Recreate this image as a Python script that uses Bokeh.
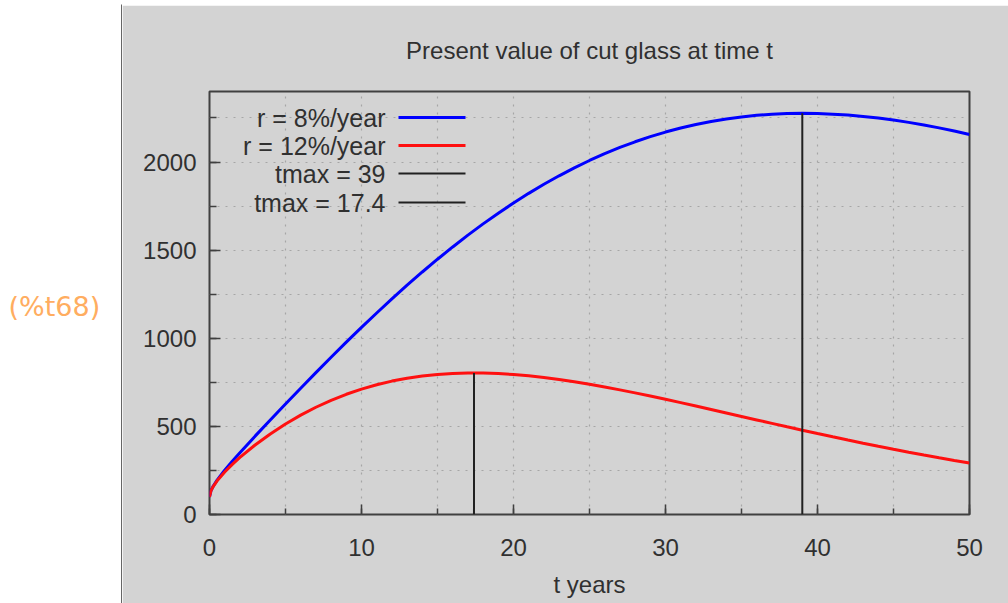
from bokeh.plotting import figure
from bokeh.layouts import row, column
from bokeh.models import Range1d, SingleIntervalTicker, Label, Arrow
from bokeh.embed import file_html
from bokeh.resources import INLINE

# ---- data -------------------------------------------------------------
t_years = [0, 0.1, 0.25, 0.5, 1, 1.5, 2,
           3, 4, 5, 6, 7, 8, 9, 10, 11, 12, 13, 14, 15, 16, 17, 18, 19, 20,
           21, 22, 23, 24, 25, 26, 27, 28, 29, 30, 31, 32, 33, 34, 35, 36,
           37, 38, 39, 40, 41, 42, 43, 44, 45, 46, 47, 48, 49, 50]

# present value at r = 8 %/year
pv_r8 = [100, 136.1, 161.6, 194.9, 250.9, 301.8, 350.5,
         444.6, 536.6, 627.3, 716.7, 805.1, 892.1, 977.7, 1061.6, 1143.4,
         1223.3, 1300.9, 1376.0, 1448.4, 1518.0, 1584.9, 1648.8, 1709.7,
         1767.4, 1822.1, 1873.5, 1921.7, 1966.8, 2008.6, 2047.1, 2082.6,
         2114.7, 2143.9, 2169.8, 2192.9, 2212.9, 2230.0, 2244.3, 2255.8,
         2264.6, 2270.9, 2274.6, 2276.0, 2275.0, 2271.6, 2266.2, 2258.7,
         2249.3, 2238.0, 2224.9, 2210.2, 2193.7, 2175.8, 2156.5]

# present value at r = 12 %/year
pv_r12 = [100, 135.6, 160.0, 191.0, 241.1, 284.3, 323.6,
          394.4, 457.2, 513.6, 563.8, 608.5, 647.8, 682.1, 711.5, 736.4,
          756.9, 773.3, 785.9, 794.8, 800.4, 802.9, 802.5, 799.6, 794.2,
          786.6, 777.1, 765.8, 753.0, 738.9, 723.6, 707.2, 690.0, 672.1,
          653.5, 634.6, 615.3, 595.7, 576.0, 556.3, 536.6, 517.0, 497.5,
          478.3, 459.3, 440.7, 422.4, 404.5, 387.0, 370.0, 353.4, 337.3,
          321.6, 306.5, 291.9]

# time of maximum present value and the value reached there
tmax = [39, 17.4]
pv_at_tmax = [2276.0, 803.1]

rate_labels = ["r = 8%/year", "r = 12%/year"]
tmax_labels = [f"tmax = {v:g}" for v in tmax]

title_text = "Present value of cut glass at time t"
x_label = "t years"
cell_label = "(%t68)"

# ---- style ------------------------------------------------------------
FONT = "Liberation Sans"
PANEL_BG = "#d3d3d3"
INK = "#303030"
FRAME = "#404040"
GRID = "#a6a6a6"
BLUE = "#0000ff"
RED = "#ff1010"
MARK = "#202020"
ORANGE = "#ffad60"

# ---- left margin with the output cell label -----------------------------
side = figure(width=122, height=603, x_range=Range1d(0, 122),
              y_range=Range1d(603, 0), x_axis_type=None, y_axis_type=None,
              toolbar_location=None, output_backend="svg", min_border=0,
              outline_line_color=None, background_fill_color="white",
              border_fill_color="white")
side.add_layout(Label(x=8, y=306, text=cell_label, text_font="DejaVu Sans",
                      text_font_size="27px", text_color=ORANGE,
                      text_baseline="middle", text_align="left"))
side.segment(x0=[121.5], y0=[4], x1=[121.5], y1=[603],
             line_color="black", line_width=1.2)

# ---- thin strip holding the top edge of the plot panel -------------------
strip = figure(width=886, height=5, x_range=Range1d(0, 886),
               y_range=Range1d(5, 0), x_axis_type=None, y_axis_type=None,
               toolbar_location=None, output_backend="svg", min_border=0,
               outline_line_color=None, background_fill_color="white",
               border_fill_color="white")
strip.segment(x0=[0], y0=[4.5], x1=[886], y1=[4.5],
              line_color="black", line_width=1.2)

# ---- main plot --------------------------------------------------------
p = figure(width=886, height=598, x_range=Range1d(0, 50),
           y_range=Range1d(0, 2400), toolbar_location=None,
           output_backend="svg", min_border_left=87, min_border_right=39,
           min_border_top=86, min_border_bottom=89,
           background_fill_color=PANEL_BG, border_fill_color=PANEL_BG,
           outline_line_color=FRAME, outline_line_width=2)

p.title.text = title_text
p.title.align = "center"
p.title.text_font = FONT
p.title.text_font_size = "24px"
p.title.text_font_style = "normal"
p.title.text_color = INK
p.title.standoff = 56

p.xaxis.ticker = SingleIntervalTicker(interval=10, num_minor_ticks=2)
p.yaxis.ticker = SingleIntervalTicker(interval=500, num_minor_ticks=2)
p.xgrid.ticker = SingleIntervalTicker(interval=5)
p.ygrid.ticker = SingleIntervalTicker(interval=250)

for ax in (p.xaxis[0], p.yaxis[0]):
    ax.axis_line_color = None
    ax.major_tick_line_color = FRAME
    ax.minor_tick_line_color = FRAME
    ax.major_tick_line_width = 1.5
    ax.minor_tick_line_width = 1.5
    ax.major_tick_out = 0
    ax.minor_tick_out = 0
    ax.major_label_text_font = FONT
    ax.major_label_text_font_size = "24px"
    ax.major_label_text_color = INK
    ax.axis_label_text_font = FONT
    ax.axis_label_text_font_size = "24px"
    ax.axis_label_text_font_style = "normal"
    ax.axis_label_text_color = INK

p.xaxis.major_tick_in = 10
p.xaxis.minor_tick_in = 6
p.yaxis.major_tick_in = 11
p.yaxis.minor_tick_in = 7
p.xaxis.major_label_standoff = 24
p.yaxis.major_label_standoff = 13
p.xaxis.axis_label = x_label
p.xaxis.axis_label_standoff = 12

for g in (p.xgrid[0], p.ygrid[0]):
    g.grid_line_color = GRID
    g.grid_line_dash = "2 6"
    g.grid_line_width = 1.2

# curves
p.line(t_years, pv_r8, line_color=BLUE, line_width=3)
p.line(t_years, pv_r12, line_color=RED, line_width=3)

# vertical markers at tmax
p.segment(x0=tmax, y0=[0, 0], x1=tmax, y1=pv_at_tmax,
          line_color=MARK, line_width=2)

# key: text right-aligned with a line sample to its right
key_labels = rate_labels + tmax_labels
key_colors = [BLUE, RED, MARK, MARK]
key_widths = [3, 3, 2, 2]
key_rows = [397, 369, 341, 312]
for lab, col, w, yy in zip(key_labels, key_colors, key_widths, key_rows):
    p.add_layout(Label(x=176, y=yy, x_units="screen", y_units="screen",
                       text=lab, text_align="right", text_baseline="middle",
                       text_font=FONT, text_font_size="25px",
                       text_color=INK))
    p.add_layout(Arrow(x_start=189, y_start=yy, x_end=256, y_end=yy,
                       start_units="screen", end_units="screen",
                       start=None, end=None, line_color=col, line_width=w))

layout = row(side, column(strip, p))
open("out.html", "w").write(file_html(layout, INLINE))
